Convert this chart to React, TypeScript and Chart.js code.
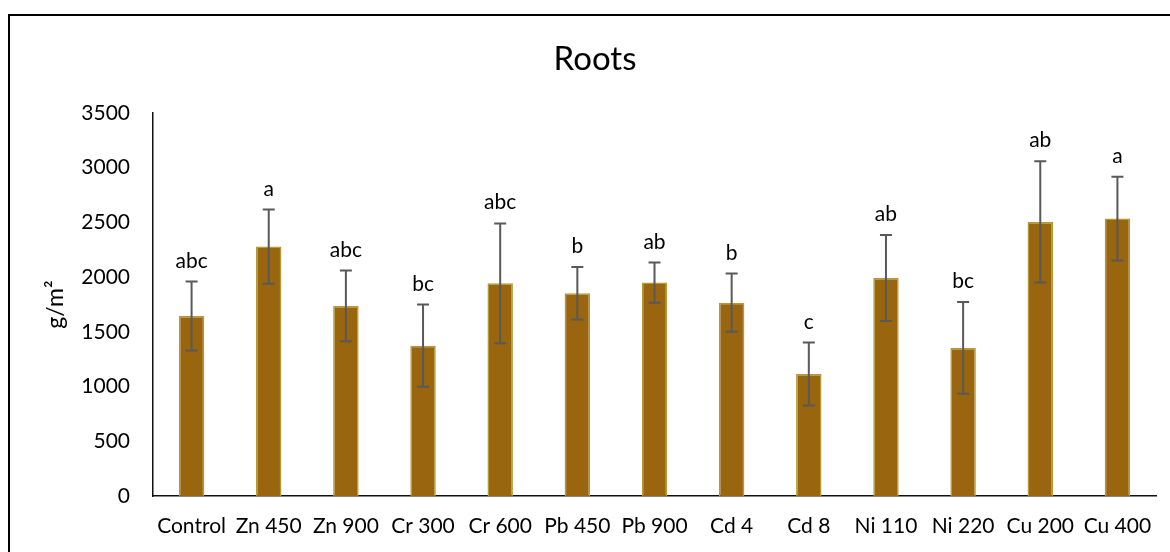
import React, { useEffect, useRef } from "react";
import { Chart, registerables } from "chart.js";

Chart.register(...registerables);

// Root biomass per treatment (g/m²), with standard errors and significance groups
const categories = [
  "Control", "Zn 450", "Zn 900", "Cr 300", "Cr 600", "Pb 450", "Pb 900",
  "Cd 4", "Cd 8", "Ni 110", "Ni 220", "Cu 200", "Cu 400",
];
const means = [1645, 2279, 1737, 1374, 1944, 1853, 1950, 1767, 1115, 1993, 1353, 2505, 2535];
const errors = [315, 339, 323, 375, 547, 240, 183, 266, 287, 393, 419, 553, 382];
const letters = ["abc", "a", "abc", "bc", "abc", "b", "ab", "b", "c", "ab", "bc", "ab", "a"];
const yMin = 0;
const yMax = 3500;
const yStep = 500;

const FONT = "Lato";

const errorBarPlugin = {
  id: "errorBarsAndLetters",
  afterDatasetsDraw(chart: any) {
    const { ctx } = chart;
    const y = chart.scales.y;
    const meta = chart.getDatasetMeta(0);
    ctx.save();
    meta.data.forEach((bar: any, i: number) => {
      const x = bar.x;
      const top = y.getPixelForValue(means[i] + errors[i]);
      const bottom = y.getPixelForValue(means[i] - errors[i]);
      const cap = 6;
      ctx.strokeStyle = "#595959";
      ctx.lineWidth = 2;
      ctx.beginPath();
      ctx.moveTo(x, top);
      ctx.lineTo(x, bottom);
      ctx.moveTo(x - cap, top);
      ctx.lineTo(x + cap, top);
      ctx.moveTo(x - cap, bottom);
      ctx.lineTo(x + cap, bottom);
      ctx.stroke();

      ctx.fillStyle = "#000";
      ctx.font = `21px ${FONT}`;
      ctx.textAlign = "center";
      ctx.textBaseline = "alphabetic";
      ctx.fillText(letters[i], x, top - 14);
    });
    ctx.restore();
  },
};

export default function App() {
  const canvasRef = useRef<HTMLCanvasElement | null>(null);

  useEffect(() => {
    if (!canvasRef.current) return;
    const chart = new Chart(canvasRef.current, {
      type: "bar",
      data: {
        labels: categories,
        datasets: [
          {
            data: means,
            backgroundColor: "#99650F",
            borderColor: "#B39A35",
            borderWidth: 1.5,
            barPercentage: 0.33,
            categoryPercentage: 1,
          },
        ],
      },
      options: {
        responsive: false,
        animation: false,
        layout: { padding: { top: 0, right: 24, bottom: 0, left: 24 } },
        plugins: {
          legend: { display: false },
          tooltip: { enabled: false },
          title: {
            display: true,
            text: "Roots",
            color: "#000",
            font: { family: FONT, size: 33, weight: "normal" },
            padding: { top: 24, bottom: 33.4 },
          },
        },
        scales: {
          x: {
            grid: { display: false },
            border: { display: true, color: "#111", width: 1.5 },
            ticks: {
              color: "#000",
              font: { family: FONT, size: 21 },
              padding: 10,
              maxRotation: 0,
              autoSkip: false,
            },
            afterFit(scale: any) {
              scale.height = 56;
            },
          },
          y: {
            min: yMin,
            max: yMax,
            grid: { display: false },
            border: { display: true, color: "#111", width: 1.5 },
            ticks: {
              stepSize: yStep,
              color: "#000",
              font: { family: FONT, size: 21 },
              padding: 15,
              callback: (v: any) => String(v),
            },
            title: {
              display: true,
              text: "g/m²",
              color: "#000",
              font: { family: FONT, size: 23 },
              padding: { top: 8, bottom: 0 },
            },
            afterFit(scale: any) {
              scale.width = 119;
            },
          },
        },
      },
      plugins: [errorBarPlugin],
    });
    return () => chart.destroy();
  }, []);

  return (
    <div
      style={{
        position: "fixed",
        left: 0,
        top: 0,
        width: 1170,
        height: 552,
        overflow: "hidden",
        background: "#fff",
      }}
    >
      <div
        style={{
          position: "absolute",
          left: 8,
          top: 14,
          width: 1300,
          height: 700,
          borderTop: "2px solid #000",
          borderLeft: "2px solid #000",
        }}
      />
      <canvas
        ref={canvasRef}
        width={1170}
        height={536}
        style={{ position: "absolute", left: 10, top: 16, width: 1170, height: 536 }}
      />
    </div>
  );
}
